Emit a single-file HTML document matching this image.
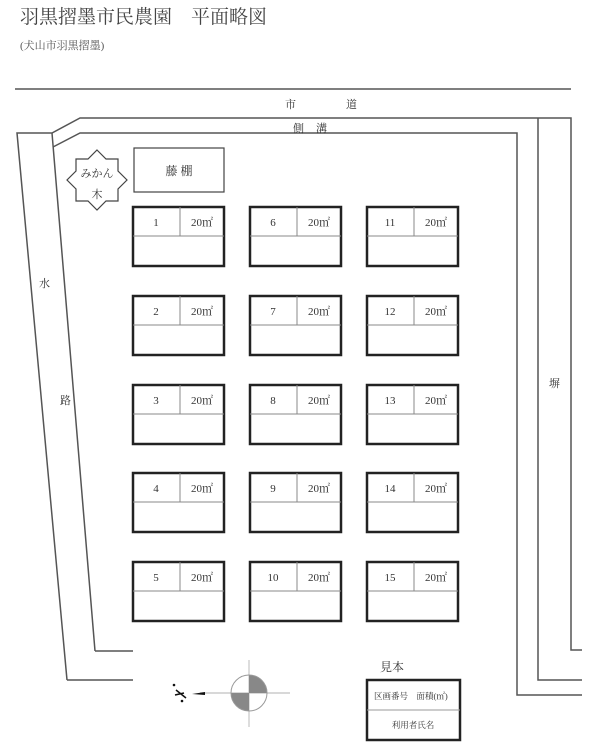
<!DOCTYPE html>
<html><head><meta charset="utf-8"><style>
body{margin:0;background:#fff}
svg{display:block}
text{font-family:"Liberation Serif","Noto Serif CJK SC","Noto Sans CJK JP",serif;fill:#333}
</style></head><body>
<svg width="600" height="756" viewBox="0 0 600 756" xmlns="http://www.w3.org/2000/svg">
<text x="20" y="23" font-size="19" font-family="Noto Serif CJK SC, serif" style="fill:#444">羽黒摺墨市民農園　平面略図</text>
<text x="20" y="49" font-size="11" style="fill:#555">(犬山市羽黒摺墨)</text>
<g stroke="#555" stroke-width="1.5" fill="none">
<line x1="15" y1="89" x2="571" y2="89"/>
<polyline points="67,680 17,133 52,133 80,118 571,118 571,650 582,650"/>
<polyline points="95,651 133,651"/>
<polyline points="67,680 133,680"/>
<polyline points="95,651 52,133"/>
<polyline points="53,147 80,133 517,133 517,695 582,695"/>
<polyline points="538,118 538,680 582,680"/>
</g>
<text x="285" y="108" font-size="11">市</text>
<text x="346" y="108" font-size="11">道</text>
<text x="293" y="132" font-size="11">側</text>
<text x="316" y="132" font-size="11">溝</text>
<text x="39" y="287" font-size="11">水</text>
<text x="60" y="404" font-size="11">路</text>
<text x="549" y="387" font-size="11">塀</text>
<polygon points="97,150 106,159 118,159 118,171 127,180 118,189 118,201 106,201 97,210 88,201 76,201 76,189 67,180 76,171 76,159 88,159" fill="none" stroke="#444" stroke-width="1.2"/>
<text x="97" y="177" font-size="11" text-anchor="middle">みかん</text>
<text x="97" y="198" font-size="11" text-anchor="middle">木</text>
<rect x="134" y="148" width="90" height="44" fill="none" stroke="#444" stroke-width="1.2"/>
<text x="179" y="175" font-size="12" text-anchor="middle">藤 棚</text>
<g stroke-width="2.5" stroke="#222" fill="none">
<rect x="133" y="207" width="91" height="59"/><rect x="250" y="207" width="91" height="59"/><rect x="367" y="207" width="91" height="59"/>
<rect x="133" y="296" width="91" height="59"/><rect x="250" y="296" width="91" height="59"/><rect x="367" y="296" width="91" height="59"/>
<rect x="133" y="385" width="91" height="59"/><rect x="250" y="385" width="91" height="59"/><rect x="367" y="385" width="91" height="59"/>
<rect x="133" y="473" width="91" height="59"/><rect x="250" y="473" width="91" height="59"/><rect x="367" y="473" width="91" height="59"/>
<rect x="133" y="562" width="91" height="59"/><rect x="250" y="562" width="91" height="59"/><rect x="367" y="562" width="91" height="59"/>
</g>
<g stroke="#888" stroke-width="1">
<path d="M133 236H224M180 207V236M250 236H341M297 207V236M367 236H458M414 207V236"/>
<path d="M133 325H224M180 296V325M250 325H341M297 296V325M367 325H458M414 296V325"/>
<path d="M133 414H224M180 385V414M250 414H341M297 385V414M367 414H458M414 385V414"/>
<path d="M133 502H224M180 473V502M250 502H341M297 473V502M367 502H458M414 473V502"/>
<path d="M133 591H224M180 562V591M250 591H341M297 562V591M367 591H458M414 562V591"/>
</g>
<g font-size="11" text-anchor="middle">
<text x="156" y="226">1</text><text x="273" y="226">6</text><text x="390" y="226">11</text>
<text x="156" y="315">2</text><text x="273" y="315">7</text><text x="390" y="315">12</text>
<text x="156" y="404">3</text><text x="273" y="404">8</text><text x="390" y="404">13</text>
<text x="156" y="492">4</text><text x="273" y="492">9</text><text x="390" y="492">14</text>
<text x="156" y="581">5</text><text x="273" y="581">10</text><text x="390" y="581">15</text>
<text x="202" y="226">20㎡</text><text x="319" y="226">20㎡</text><text x="436" y="226">20㎡</text>
<text x="202" y="315">20㎡</text><text x="319" y="315">20㎡</text><text x="436" y="315">20㎡</text>
<text x="202" y="404">20㎡</text><text x="319" y="404">20㎡</text><text x="436" y="404">20㎡</text>
<text x="202" y="492">20㎡</text><text x="319" y="492">20㎡</text><text x="436" y="492">20㎡</text>
<text x="202" y="581">20㎡</text><text x="319" y="581">20㎡</text><text x="436" y="581">20㎡</text>
</g>
<text x="380" y="671" font-size="12">見本</text>
<rect x="367" y="680" width="93" height="60" fill="none" stroke="#222" stroke-width="2.5"/>
<line x1="367" y1="710" x2="460" y2="710" stroke="#999" stroke-width="1"/>
<text x="374" y="699" font-size="8.5">区画番号　面積(㎡)</text>
<text x="413" y="728" font-size="8.5" text-anchor="middle">利用者氏名</text>
<g>
<line x1="200" y1="693" x2="290" y2="693" stroke="#ccc" stroke-width="1.5"/>
<line x1="249" y1="660" x2="249" y2="727" stroke="#bbb" stroke-width="1"/>
<path d="M249 693V675A18 18 0 0 1 267 693Z" fill="#888"/>
<path d="M249 693V711A18 18 0 0 1 231 693Z" fill="#888"/>
<circle cx="249" cy="693" r="18" fill="none" stroke="#999" stroke-width="1"/>
<path d="M192 694L205 692L205 695Z" fill="#111"/>
<circle cx="174" cy="685" r="1.3" fill="#111"/>
<circle cx="182" cy="701" r="1.3" fill="#111"/>
<path d="M176 690L186 698M175 695L184 693" stroke="#111" stroke-width="1.5"/>
</g>
</svg>
</body></html>
